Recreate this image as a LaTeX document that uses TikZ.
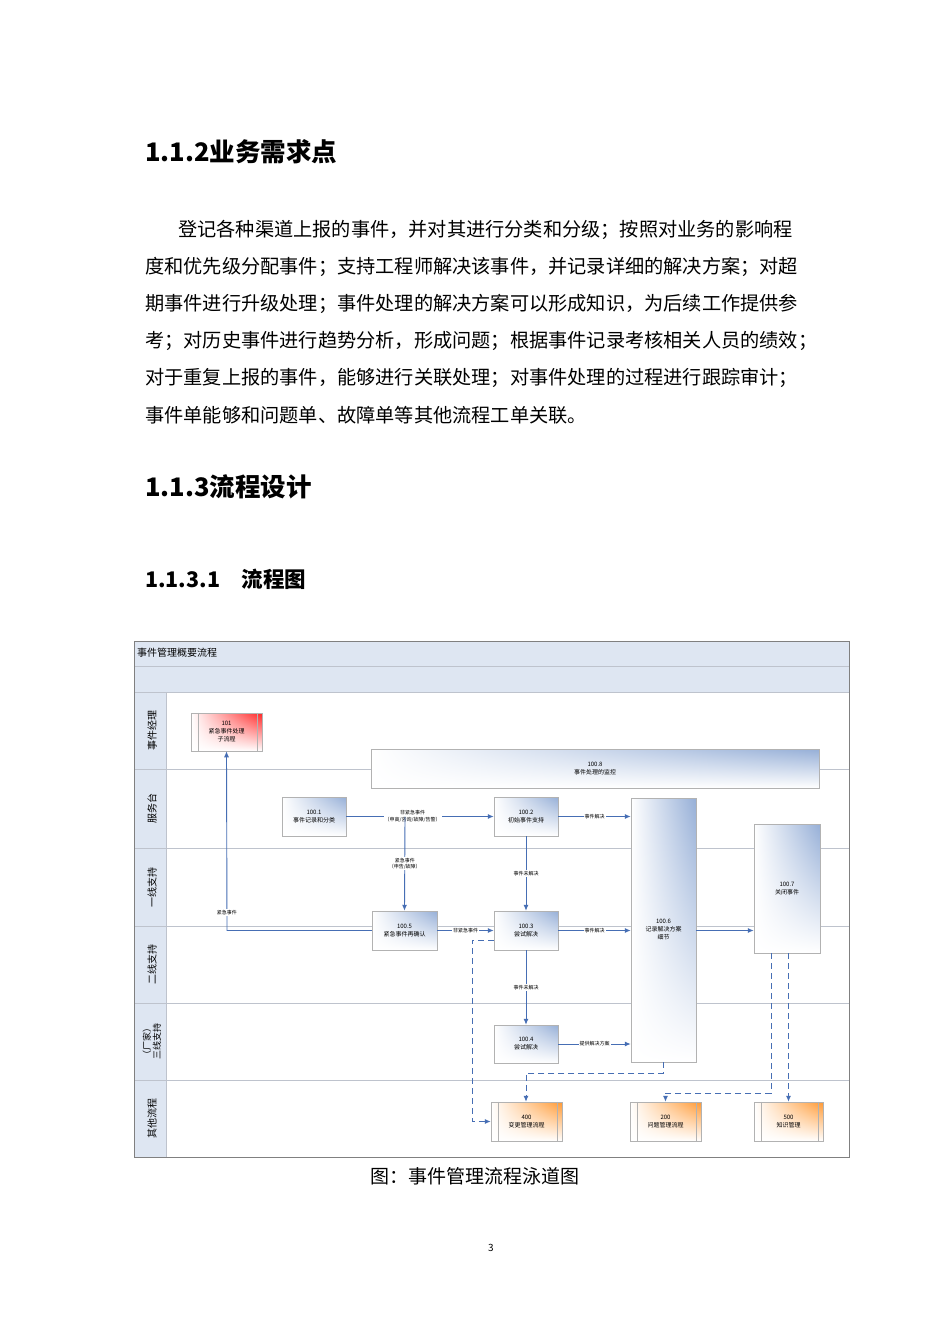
\documentclass[tikz,border=0pt]{standalone}
\usepackage{fontspec}
\setmainfont{Noto Sans CJK SC}
\usetikzlibrary{arrows.meta,shadings}
\definecolor{lb}{RGB}{70,110,180}
\definecolor{bg}{RGB}{150,175,215}
\definecolor{lanebg}{RGB}{222,230,242}
\definecolor{gridc}{RGB}{190,195,205}
\tikzset{
 x=1pt,y=-1pt,
 body/.style={anchor=west,inner sep=0,font=\fontsize{19.2}{20}\selectfont},
 proc/.style={draw=gray!60,line width=0.5pt,align=center,font=\fontsize{6}{8}\selectfont,inner sep=0,
   upper right=bg,upper left=white,lower left=white,lower right=white},
 sub/.style={draw=gray!60,line width=0.5pt,align=center,font=\fontsize{6}{8}\selectfont,inner sep=0,
   upper right=orange!80,upper left=white,lower left=white,lower right=white},
 flow/.style={draw=lb,line width=0.9pt,-{Latex[length=6pt,width=5pt]}},
 dflow/.style={flow,dash pattern=on 6pt off 4pt},
 lbl/.style={fill=white,inner sep=1pt,font=\fontsize{5}{6.5}\selectfont,align=center},
 lane/.style={rotate=90,font=\fontsize{10}{11}\selectfont,align=center}
}
\begin{document}
\begin{tikzpicture}
\useasboundingbox (0,0) rectangle (950,1344);
\fill[white] (0,0) rectangle (950,1344);
% headings
\node[anchor=west,inner sep=0,font=\fontsize{25.5}{26}\bfseries\selectfont] at (145,152) {1.1.2业务需求点};
\node[body] at (178,230) {登记各种渠道上报的事件，并对其进行分类和分级；按照对业务的影响程};
\node[body] at (145,267) {度和优先级分配事件；支持工程师解决该事件，并记录详细的解决方案；对超};
\node[body] at (145,304) {期事件进行升级处理；事件处理的解决方案可以形成知识，为后续工作提供参};
\node[body] at (145,341) {考；对历史事件进行趋势分析，形成问题；根据事件记录考核相关人员的绩效；};
\node[body] at (145,378) {对于重复上报的事件，能够进行关联处理；对事件处理的过程进行跟踪审计；};
\node[body] at (145,415) {事件单能够和问题单、故障单等其他流程工单关联。};
\node[anchor=west,inner sep=0,font=\fontsize{25.5}{26}\bfseries\selectfont] at (145,487) {1.1.3流程设计};
\node[anchor=west,inner sep=0,font=\fontsize{21.5}{22}\bfseries\selectfont] at (145,579) {1.1.3.1\hspace{1em}流程图};
% frame
\fill[lanebg] (134,641) rectangle (849,692);
\fill[lanebg] (134,692) rectangle (166,1157);
\draw[gridc,line width=0.8pt] (134,666) -- (849,666);
\draw[gridc,line width=0.8pt] (134,692) -- (849,692);
\foreach \yy in {769,848,926,1003,1080}{\draw[gridc,line width=0.6pt] (134,\yy) -- (849,\yy);}
\draw[gridc,line width=0.6pt] (166,692) -- (166,1157);
\draw[gray,line width=0.8pt] (134,641) rectangle (849,1157);
\node[anchor=west,inner sep=0,font=\fontsize{10}{11}\selectfont] (title) at (137,653) {事件管理概要流程};
\node[lane] (l1) at (152,730) {事件经理};
\node[lane] (l2) at (152,808) {服务台};
\node[lane] (l3) at (152,887) {一线支持};
\node[lane] (l4) at (152,964) {二线支持};
\node[lane,font=\fontsize{9}{10}\selectfont] (l5) at (152,1041) {（厂家）\\三线支持};
\node[lane] (l6) at (152,1118) {其他流程};
% boxes
\node[sub,upper right=red!85,minimum width=71,minimum height=38] (b101) at (226.5,732) {101\\紧急事件处理\\子流程};
\node[proc,minimum width=448,minimum height=39] (b8) at (595,768.5) {100.8\\事件处理的监控};
\node[proc,minimum width=64,minimum height=39] (b1) at (314,816.5) {100.1\\事件记录和分类};
\node[proc,minimum width=64,minimum height=39] (b2) at (526,816.5) {100.2\\初始事件支持};
\node[proc,minimum width=65,minimum height=264] (b6) at (663.5,930) {100.6\\记录解决方案\\细节};
\node[proc,minimum width=66,minimum height=129] (b7) at (787,888.5) {100.7\\关闭事件};
\node[proc,minimum width=65,minimum height=39] (b5) at (404.5,930.5) {100.5\\紧急事件再确认};
\node[proc,minimum width=64,minimum height=39] (b3) at (526,930.5) {100.3\\尝试解决};
\node[proc,minimum width=64,minimum height=38] (b4) at (526,1044) {100.4\\尝试解决};
\node[sub,minimum width=71,minimum height=39] (b400) at (526.5,1121.5) {400\\变更管理流程};
\node[sub,minimum width=71,minimum height=39] (b200) at (665.5,1121.5) {200\\问题管理流程};
\node[sub,minimum width=69,minimum height=39] (b500) at (788.5,1121.5) {500\\知识管理};
\foreach \n in {b101,b400,b200,b500}{
 \draw[gray!60,line width=0.5pt] ([xshift=7pt]\n.north west) -- ([xshift=7pt]\n.south west);
 \draw[gray!60,line width=0.5pt] ([xshift=-5pt]\n.north east) -- ([xshift=-5pt]\n.south east);}
% arrows
\draw[flow] (b1.east) -- node[lbl,pos=0.45]{非紧急事件\\（申高/咨询/故障/告警）} (b2.west);
\coordinate (br) at (405,816.5);
\draw[flow] (br) -- node[lbl,pos=0.5]{紧急事件\\（申告/故障）} (b5.north);
\coordinate (c1) at (227,930.5);
\draw[flow] (b5.west) -- (c1) -- node[lbl,pos=0.1]{紧急事件} (b101.south);
\draw[flow] (b5.east) -- node[lbl]{非紧急事件} (b3.west);
\draw[flow] (b2.east) -- node[lbl]{事件解决} (b2.east -| b6.west);
\draw[flow] (b2.south) -- node[lbl]{事件未解决} (b3.north);
\draw[flow] (b3.east) -- node[lbl]{事件解决} (b3.east -| b6.west);
\draw[flow] (b3.south) -- node[lbl]{事件未解决} (b4.north);
\draw[flow] (b4.east) -- node[lbl]{提供解决方案} (b4.east -| b6.west);
\draw[flow] (b6.east |- b3.east) -- (b7.west |- b3.east);
\coordinate (d1) at (472,940);
\coordinate (d2) at (472,1121.5);
\draw[dflow] (b3.west |- d1) -- (d1) -- (d2) -- (b400.west);
\coordinate (d3) at (663.5,1073);
\coordinate (d4) at (526,1073);
\draw[dflow] (b6.south) -- (d3) -- (d4) -- (b400.north -| d4);
\coordinate (d5) at (771,953);
\coordinate (d6) at (771,1093);
\coordinate (d7) at (665.5,1093);
\draw[dflow] (d5) -- (d6) -- (d7) -- (b200.north);
\draw[dflow] (b7.south -| b500.north) -- (b500.north);
% caption
\node[font=\fontsize{19}{20}\selectfont] (cap) at (475,1176) {图：事件管理流程泳道图};
\node[font=\fontsize{10}{11}\selectfont] (pg) at (491,1248) {3};
\end{tikzpicture}
\end{document}
